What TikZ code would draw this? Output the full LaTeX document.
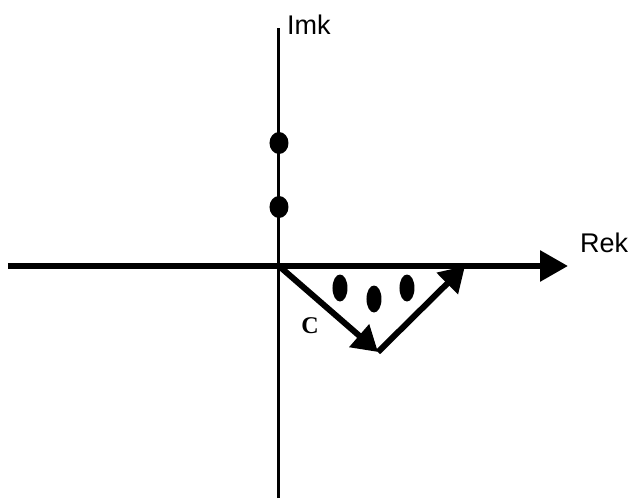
\documentclass[tikz,border=0pt]{standalone}
\usepackage{fontspec}
\setmainfont{Liberation Sans}
\newfontfamily\serifC{Liberation Serif}
\usetikzlibrary{arrows.meta}
\begin{document}
\begin{tikzpicture}[x=1pt, y=1pt]
	\useasboundingbox (-279,-235) rectangle (351,266);
	% axes
	\coordinate (O) at (0,0);
	\coordinate (xl) at (-271,0);
	\coordinate (xr) at (289,0);
	\coordinate (yb) at (0,-232);
	\coordinate (yt) at (0,238);
	\draw[line width=3pt] (yb) -- (yt);
	\draw[line width=6pt, -{Triangle[length=28pt, width=30pt]}] (xl) -- (xr);
	\node[anchor=base west, inner sep=0pt, font=\fontsize{27}{30}\selectfont] (imk) at (8,231) {Imk};
	\node[anchor=base west, inner sep=0pt, font=\fontsize{27}{30}\selectfont] (rek) at (301,13) {Rek};
	% poles on the imaginary axis
	\fill (0,123) ellipse (9.5pt and 11pt);
	\fill (0,59) ellipse (9.5pt and 11pt);
	% contour
	\coordinate (B) at (99,-86);
	\coordinate (E) at (186,0);
	\draw[line width=6pt, line join=miter, -{Triangle[length=25pt, width=29pt]}] (O) -- (B);
	\draw[line width=6pt, line join=miter, -{Triangle[length=25pt, width=29pt]}] (B) -- (E);
	\fill (61,-22) ellipse (7.5pt and 13.5pt);
	\fill (95,-33) ellipse (7.5pt and 13.5pt);
	\fill (128,-22) ellipse (7.5pt and 13.5pt);
	\node[font=\serifC\bfseries\fontsize{24}{26}\selectfont, inner sep=0pt] (c) at (31,-60) {C};
\end{tikzpicture}
\end{document}
